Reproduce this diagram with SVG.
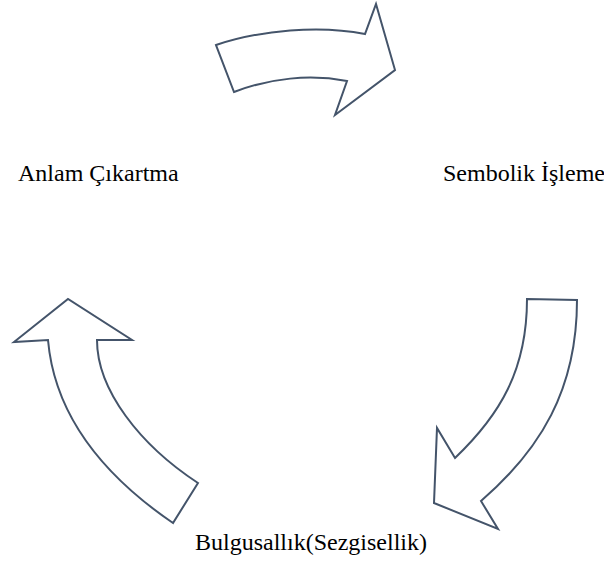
<svg xmlns="http://www.w3.org/2000/svg" width="604" height="563" viewBox="0 0 604 563">
<style>
.arrow{fill:#ffffff;stroke:#44546A;stroke-width:2;stroke-linejoin:miter}
.lbl{font-family:"Liberation Serif","Times New Roman",serif;font-size:24px;fill:#000000}
</style>
<rect width="604" height="563" fill="#ffffff"/>
<g id="connectors">
<path id="arrow-top" class="arrow" d="M216,45 C260,30 320,25 365,34 L376,4 L395,70 L335,115 L347,81 C310,74 270,78 234,92 Z"/>
<path id="arrow-right" class="arrow" d="M527,299 L577,300 C577,390 540,450 481,501 L498,529 L434,503 L437,428 L455,458 C500,415 527,370 527,299 Z"/>
<path id="arrow-left" class="arrow" d="M198,483 L173,523 C110,480 55,420 48,340 L14,342 L68,299 L132,340 L97,340 C97,390 140,445 198,483 Z"/>
</g>
<g id="node-anlam"><text class="lbl" x="18" y="181">Anlam Çıkartma</text></g>
<g id="node-sembolik"><text class="lbl" x="443" y="181">Sembolik İşleme</text></g>
<g id="node-bulgusallik"><text class="lbl" x="195" y="550">Bulgusallık(Sezgisellik)</text></g>
</svg>
